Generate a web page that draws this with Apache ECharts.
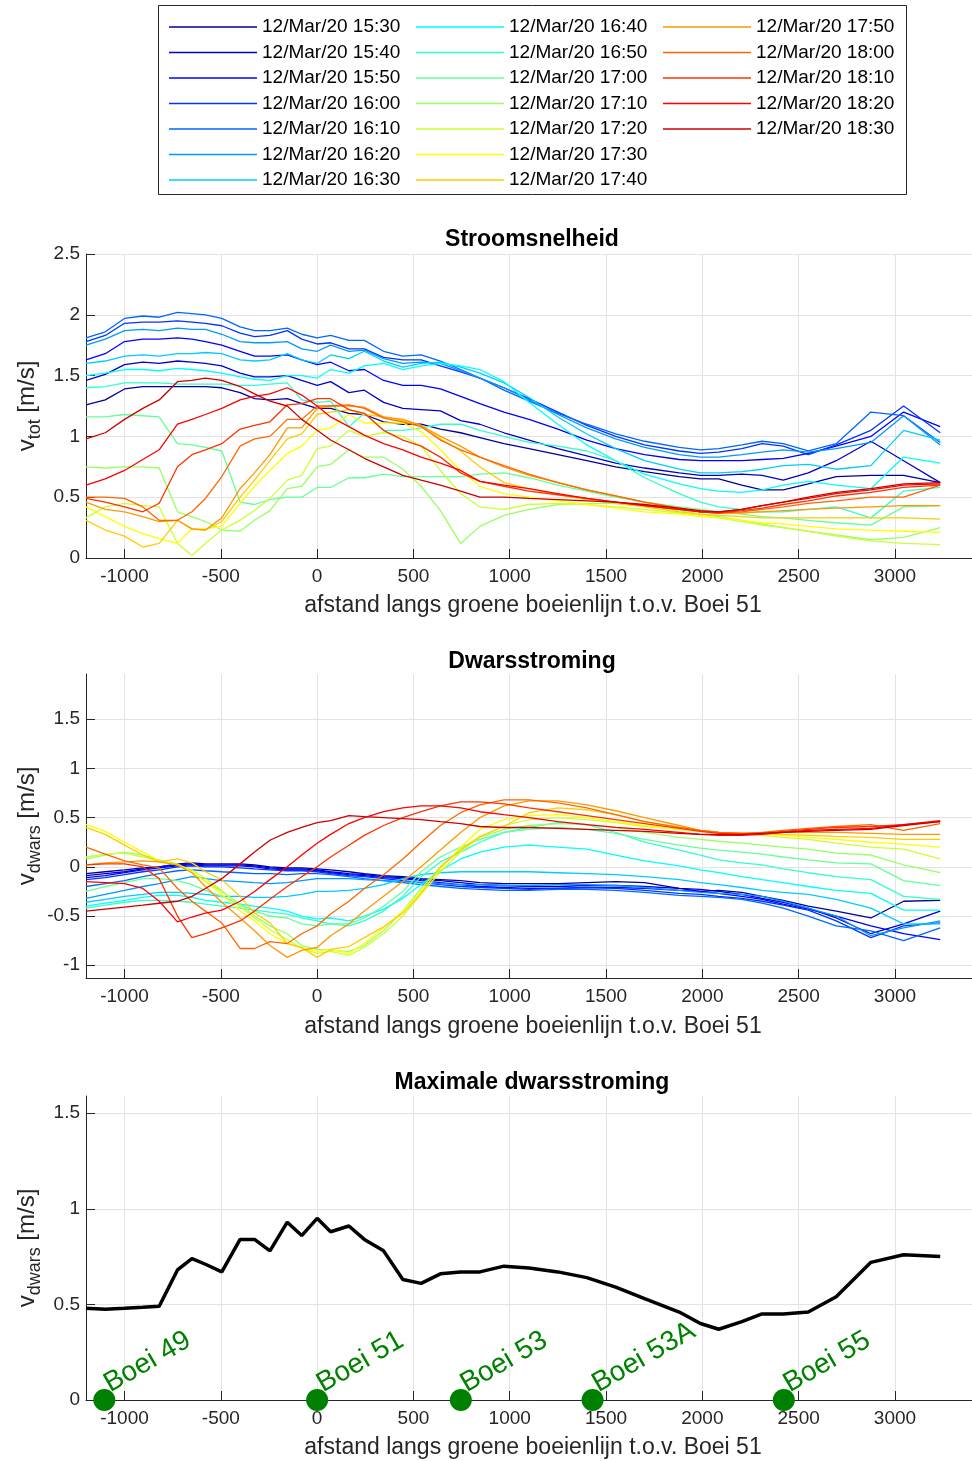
<!DOCTYPE html>
<html><head><meta charset="utf-8">
<script src="https://cdn.jsdelivr.net/npm/echarts@6/dist/echarts.min.js"></script>
<style>html,body{margin:0;padding:0;background:#fff}#c{width:972px;height:1461px}</style>
</head><body><div id="c"></div>
<script>
// ---------- data ----------
const X = [-1200,-1100,-1000,-905,-820,-725,-650,-580,-495,-400,-325,-245,-155,-80,0,70,165,245,345,445,540,640,745,845,970,1100,1250,1400,1550,1700,1880,1990,2085,2205,2310,2420,2550,2695,2875,3045,3235];
const times = ['15:30','15:40','15:50','16:00','16:10','16:20','16:30','16:40','16:50','17:00','17:10','17:20','17:30','17:40','17:50','18:00','18:10','18:20','18:30'];
const colors = ['#000099','#0000cc','#0000ff','#0033ff','#0066ff','#0099ff','#00ccff','#00ffff','#33ffcc','#66ff99','#99ff66','#ccff33','#ffff00','#ffcc00','#ff9900','#ff6600','#ff3300','#ff0000','#cc0000'];
const xTicks = [-1000,-500,0,500,1000,1500,2000,2500,3000];

// Stroomsnelheid v_tot [m/s]
const v1530 = [1.26,1.30,1.39,1.41,1.41,1.41,1.41,1.41,1.40,1.36,1.31,1.30,1.31,1.27,1.23,1.23,1.19,1.18,1.12,1.10,1.10,1.06,1.03,0.99,0.94,0.90,0.85,0.80,0.75,0.71,0.67,0.65,0.65,0.60,0.56,0.56,0.61,0.67,0.68,0.68,0.62];
const v1540 = [1.46,1.51,1.59,1.61,1.60,1.62,1.61,1.60,1.58,1.52,1.49,1.49,1.50,1.46,1.42,1.45,1.36,1.38,1.28,1.23,1.22,1.21,1.13,1.10,1.03,0.97,0.90,0.84,0.78,0.74,0.70,0.68,0.68,0.69,0.68,0.64,0.70,0.80,0.96,0.80,0.62];
const v1550 = [1.63,1.68,1.78,1.80,1.80,1.81,1.80,1.78,1.75,1.70,1.66,1.66,1.67,1.63,1.59,1.61,1.54,1.55,1.46,1.42,1.42,1.39,1.33,1.27,1.20,1.14,1.06,0.97,0.90,0.85,0.81,0.80,0.80,0.80,0.81,0.82,0.86,0.92,1.00,1.20,1.08];
const v1600 = [1.78,1.83,1.93,1.94,1.94,1.95,1.94,1.93,1.91,1.85,1.82,1.83,1.87,1.80,1.76,1.77,1.72,1.72,1.65,1.63,1.63,1.58,1.53,1.48,1.40,1.31,1.20,1.09,1.00,0.93,0.88,0.86,0.87,0.90,0.94,0.92,0.85,0.93,1.05,1.25,1.03];
const v1610 = [1.81,1.86,1.97,1.99,1.98,2.02,2.01,2.00,1.97,1.90,1.87,1.87,1.89,1.84,1.81,1.83,1.79,1.79,1.70,1.66,1.67,1.62,1.55,1.48,1.38,1.29,1.19,1.10,1.02,0.96,0.91,0.89,0.90,0.93,0.96,0.94,0.88,0.94,1.20,1.17,0.95];
const v1620 = [1.75,1.80,1.87,1.88,1.87,1.89,1.88,1.88,1.84,1.78,1.77,1.77,1.78,1.72,1.70,1.75,1.70,1.71,1.64,1.60,1.61,1.60,1.54,1.48,1.40,1.30,1.18,1.07,0.98,0.91,0.85,0.83,0.83,0.85,0.87,0.89,0.87,0.90,0.95,1.17,0.93];
const v1630 = [1.60,1.62,1.66,1.67,1.66,1.68,1.68,1.69,1.68,1.63,1.62,1.63,1.68,1.63,1.60,1.67,1.64,1.70,1.62,1.57,1.60,1.61,1.57,1.52,1.44,1.32,1.16,1.02,0.90,0.80,0.73,0.70,0.70,0.71,0.73,0.76,0.77,0.73,0.76,1.05,0.97];
const v1640 = [1.50,1.52,1.55,1.55,1.54,1.56,1.55,1.54,1.52,1.49,1.47,1.46,1.50,1.50,1.48,1.55,1.52,1.58,1.60,1.55,1.58,1.60,1.58,1.55,1.45,1.28,1.10,0.93,0.80,0.69,0.61,0.57,0.55,0.54,0.56,0.60,0.63,0.60,0.57,0.83,0.78];
const v1650 = [1.40,1.41,1.44,1.44,1.44,1.43,1.43,1.43,1.43,1.42,1.42,1.43,1.44,1.30,1.28,1.29,1.08,1.19,1.05,1.05,1.07,1.10,1.10,1.05,1.00,0.95,0.92,0.88,0.80,0.66,0.53,0.46,0.42,0.40,0.38,0.38,0.40,0.42,0.33,0.55,0.58];
const v1700 = [1.16,1.16,1.18,1.17,1.16,0.94,0.93,0.91,0.88,0.46,0.44,0.48,0.50,0.50,0.58,0.58,0.66,0.66,0.69,0.67,0.67,0.67,0.67,0.69,0.70,0.66,0.60,0.55,0.50,0.46,0.42,0.40,0.38,0.36,0.34,0.33,0.31,0.29,0.27,0.42,0.43];
const v1710 = [0.75,0.74,0.75,0.75,0.74,0.38,0.34,0.30,0.23,0.22,0.31,0.39,0.57,0.59,0.75,0.77,0.89,0.83,0.83,0.73,0.59,0.39,0.12,0.26,0.35,0.40,0.44,0.45,0.45,0.43,0.39,0.36,0.34,0.31,0.28,0.25,0.22,0.19,0.15,0.17,0.25];
const v1720 = [0.33,0.42,0.45,0.43,0.42,0.12,0.02,0.12,0.23,0.31,0.39,0.49,0.64,0.68,0.90,0.92,1.05,1.00,1.03,1.00,0.92,0.72,0.53,0.42,0.40,0.44,0.45,0.44,0.42,0.40,0.37,0.35,0.33,0.30,0.27,0.25,0.22,0.18,0.14,0.12,0.11];
const v1730 = [0.42,0.34,0.26,0.20,0.16,0.12,0.24,0.24,0.26,0.45,0.59,0.72,0.86,0.92,1.05,1.07,1.18,1.11,1.11,1.11,1.04,0.89,0.72,0.59,0.53,0.50,0.47,0.44,0.41,0.38,0.36,0.34,0.33,0.31,0.29,0.28,0.26,0.24,0.23,0.22,0.21];
const v1740 = [0.31,0.23,0.18,0.09,0.12,0.31,0.24,0.23,0.30,0.50,0.64,0.80,0.98,1.02,1.18,1.20,1.22,1.18,1.16,1.13,1.09,0.98,0.88,0.75,0.62,0.57,0.52,0.48,0.45,0.42,0.38,0.36,0.35,0.34,0.33,0.33,0.33,0.33,0.33,0.33,0.32];
const v1750 = [0.46,0.40,0.38,0.34,0.30,0.31,0.24,0.23,0.33,0.57,0.70,0.85,1.07,1.07,1.23,1.25,1.25,1.24,1.16,1.14,1.09,1.00,0.92,0.83,0.75,0.68,0.62,0.56,0.51,0.46,0.41,0.38,0.37,0.37,0.38,0.39,0.40,0.41,0.42,0.43,0.43];
const v1800 = [0.50,0.50,0.49,0.42,0.31,0.31,0.38,0.49,0.67,0.92,0.98,1.00,1.14,1.14,1.25,1.25,1.26,1.23,1.15,1.12,1.08,0.97,0.89,0.83,0.76,0.69,0.62,0.56,0.51,0.46,0.41,0.38,0.37,0.38,0.40,0.42,0.45,0.47,0.50,0.50,0.60];
const v1810 = [0.49,0.46,0.42,0.38,0.45,0.75,0.85,0.89,0.94,1.06,1.09,1.12,1.26,1.27,1.31,1.31,1.22,1.19,1.05,0.97,0.92,0.83,0.70,0.63,0.59,0.55,0.52,0.49,0.46,0.43,0.40,0.38,0.37,0.39,0.41,0.44,0.47,0.51,0.54,0.58,0.60];
const v1820 = [0.60,0.65,0.72,0.81,0.89,1.10,1.14,1.18,1.23,1.30,1.33,1.35,1.40,1.34,1.25,1.16,1.08,1.01,0.94,0.89,0.83,0.78,0.72,0.63,0.60,0.57,0.53,0.49,0.46,0.43,0.40,0.38,0.38,0.40,0.43,0.46,0.49,0.53,0.56,0.60,0.61];
const v1830 = [0.98,1.03,1.14,1.23,1.30,1.45,1.46,1.48,1.46,1.41,1.35,1.29,1.25,1.14,1.05,0.97,0.89,0.82,0.75,0.68,0.64,0.60,0.55,0.50,0.50,0.49,0.48,0.47,0.46,0.44,0.41,0.39,0.38,0.40,0.43,0.46,0.50,0.54,0.57,0.61,0.62];

// Dwarsstroming v_dwars [m/s]
const d1530 = [-0.07,-0.05,-0.03,-0.01,0.00,0.03,0.04,0.03,0.03,0.03,0.02,0.00,-0.01,-0.01,-0.02,-0.03,-0.05,-0.07,-0.09,-0.10,-0.12,-0.13,-0.14,-0.16,-0.17,-0.17,-0.17,-0.16,-0.15,-0.16,-0.22,-0.25,-0.24,-0.26,-0.30,-0.34,-0.40,-0.45,-0.52,-0.35,-0.34];
const d1540 = [-0.09,-0.07,-0.05,-0.02,0.00,0.02,0.03,0.02,0.02,0.02,0.01,-0.01,-0.02,-0.02,-0.03,-0.05,-0.07,-0.08,-0.10,-0.11,-0.13,-0.14,-0.16,-0.18,-0.19,-0.20,-0.20,-0.19,-0.19,-0.20,-0.22,-0.23,-0.25,-0.28,-0.32,-0.36,-0.42,-0.52,-0.68,-0.58,-0.45];
const d1550 = [-0.11,-0.09,-0.06,-0.03,-0.01,0.01,0.02,0.01,0.01,0.01,0.00,-0.02,-0.03,-0.03,-0.04,-0.06,-0.08,-0.09,-0.11,-0.12,-0.14,-0.16,-0.18,-0.20,-0.21,-0.22,-0.22,-0.21,-0.21,-0.22,-0.24,-0.25,-0.27,-0.30,-0.33,-0.38,-0.43,-0.50,-0.60,-0.68,-0.74];
const d1600 = [-0.13,-0.11,-0.08,-0.05,-0.03,0.00,0.01,0.00,0.00,-0.01,-0.02,-0.03,-0.04,-0.04,-0.05,-0.07,-0.09,-0.10,-0.12,-0.14,-0.16,-0.18,-0.20,-0.21,-0.22,-0.23,-0.22,-0.21,-0.22,-0.24,-0.27,-0.28,-0.30,-0.32,-0.35,-0.39,-0.44,-0.55,-0.72,-0.60,-0.57];
const d1610 = [-0.20,-0.17,-0.14,-0.10,-0.07,-0.04,-0.03,-0.04,-0.05,-0.06,-0.07,-0.07,-0.08,-0.07,-0.07,-0.08,-0.10,-0.12,-0.14,-0.16,-0.18,-0.20,-0.22,-0.23,-0.24,-0.24,-0.23,-0.23,-0.24,-0.26,-0.29,-0.30,-0.31,-0.33,-0.37,-0.42,-0.50,-0.60,-0.65,-0.75,-0.62];
const d1620 = [-0.32,-0.28,-0.24,-0.20,-0.17,-0.13,-0.10,-0.12,-0.14,-0.15,-0.16,-0.17,-0.16,-0.14,-0.12,-0.12,-0.12,-0.13,-0.14,-0.15,-0.16,-0.17,-0.18,-0.18,-0.19,-0.19,-0.18,-0.18,-0.19,-0.21,-0.24,-0.26,-0.27,-0.28,-0.30,-0.35,-0.42,-0.50,-0.70,-0.62,-0.55];
const d1630 = [-0.36,-0.33,-0.30,-0.28,-0.26,-0.26,-0.27,-0.28,-0.30,-0.30,-0.31,-0.31,-0.30,-0.28,-0.25,-0.25,-0.24,-0.22,-0.18,-0.12,-0.08,-0.06,-0.05,-0.05,-0.05,-0.05,-0.06,-0.07,-0.08,-0.10,-0.13,-0.16,-0.18,-0.21,-0.24,-0.26,-0.28,-0.33,-0.42,-0.58,-0.58];
const d1640 = [-0.40,-0.37,-0.34,-0.31,-0.29,-0.29,-0.31,-0.34,-0.36,-0.38,-0.40,-0.42,-0.45,-0.50,-0.53,-0.52,-0.55,-0.50,-0.43,-0.32,-0.18,-0.04,0.08,0.15,0.20,0.22,0.20,0.18,0.12,0.06,0.01,-0.03,-0.06,-0.10,-0.13,-0.16,-0.20,-0.24,-0.27,-0.44,-0.44];
const d1650 = [-0.42,-0.39,-0.36,-0.34,-0.34,-0.35,-0.36,-0.38,-0.40,-0.42,-0.44,-0.46,-0.48,-0.52,-0.55,-0.58,-0.60,-0.55,-0.45,-0.30,-0.10,0.05,0.15,0.25,0.35,0.40,0.45,0.43,0.35,0.25,0.17,0.12,0.07,0.04,0.02,-0.02,-0.06,-0.10,-0.13,-0.30,-0.33];
const d1700 = [-0.25,-0.20,-0.16,-0.12,-0.12,-0.14,-0.18,-0.24,-0.30,-0.38,-0.45,-0.50,-0.52,-0.58,-0.60,-0.58,-0.58,-0.52,-0.40,-0.25,-0.05,0.10,0.20,0.28,0.35,0.38,0.40,0.38,0.34,0.28,0.22,0.19,0.17,0.15,0.13,0.10,0.07,0.04,0.03,-0.14,-0.19];
const d1710 = [0.08,0.12,0.15,0.12,0.07,0.03,-0.05,-0.15,-0.25,-0.38,-0.50,-0.60,-0.68,-0.80,-0.84,-0.85,-0.86,-0.80,-0.65,-0.45,-0.22,0.00,0.18,0.30,0.38,0.42,0.44,0.43,0.40,0.35,0.30,0.28,0.26,0.24,0.22,0.20,0.18,0.14,0.12,0.02,-0.06];
const d1720 = [0.10,0.13,0.14,0.10,0.06,0.02,-0.03,-0.12,-0.24,-0.40,-0.52,-0.64,-0.74,-0.83,-0.88,-0.86,-0.90,-0.82,-0.68,-0.50,-0.28,-0.05,0.15,0.30,0.42,0.48,0.50,0.48,0.45,0.41,0.38,0.36,0.35,0.34,0.32,0.30,0.28,0.24,0.20,0.18,0.08];
const d1730 = [0.43,0.36,0.25,0.15,0.06,0.02,-0.05,-0.15,-0.28,-0.45,-0.55,-0.68,-0.78,-0.82,-0.86,-0.84,-0.88,-0.78,-0.62,-0.45,-0.25,-0.02,0.20,0.38,0.48,0.52,0.53,0.50,0.46,0.42,0.38,0.36,0.35,0.34,0.33,0.32,0.30,0.28,0.25,0.23,0.20];
const d1740 = [0.40,0.33,0.22,0.12,0.05,0.08,0.04,-0.05,-0.13,-0.30,-0.47,-0.57,-0.78,-0.82,-0.92,-0.84,-0.81,-0.72,-0.61,-0.47,-0.27,0.00,0.17,0.31,0.41,0.55,0.60,0.58,0.53,0.46,0.40,0.37,0.35,0.34,0.34,0.33,0.32,0.31,0.30,0.28,0.28];
const d1750 = [0.02,0.04,0.05,0.06,0.05,0.02,-0.06,-0.20,-0.36,-0.52,-0.65,-0.80,-0.92,-0.85,-0.82,-0.70,-0.58,-0.45,-0.30,-0.15,0.00,0.17,0.35,0.50,0.62,0.67,0.67,0.63,0.57,0.50,0.42,0.37,0.35,0.34,0.34,0.35,0.35,0.35,0.34,0.33,0.33];
const d1800 = [0.20,0.13,0.06,0.02,-0.01,-0.22,-0.35,-0.45,-0.57,-0.83,-0.83,-0.76,-0.78,-0.68,-0.60,-0.48,-0.35,-0.22,-0.08,0.08,0.25,0.42,0.55,0.63,0.68,0.68,0.65,0.60,0.53,0.46,0.40,0.37,0.35,0.34,0.35,0.37,0.39,0.41,0.43,0.37,0.44];
const d1810 = [0.02,0.03,0.03,0.00,-0.12,-0.50,-0.72,-0.68,-0.62,-0.55,-0.45,-0.33,-0.20,-0.10,0.00,0.10,0.22,0.32,0.42,0.50,0.56,0.62,0.66,0.66,0.64,0.60,0.56,0.52,0.48,0.44,0.39,0.36,0.34,0.33,0.34,0.36,0.38,0.40,0.41,0.43,0.46];
const d1820 = [-0.15,-0.16,-0.17,-0.22,-0.35,-0.56,-0.51,-0.47,-0.44,-0.35,-0.25,-0.13,0.00,0.12,0.24,0.33,0.44,0.50,0.56,0.60,0.62,0.62,0.60,0.56,0.53,0.50,0.46,0.43,0.40,0.38,0.35,0.33,0.32,0.32,0.33,0.35,0.37,0.38,0.39,0.43,0.47];
const d1830 = [-0.45,-0.43,-0.41,-0.39,-0.37,-0.35,-0.30,-0.22,-0.12,0.03,0.15,0.27,0.35,0.40,0.45,0.47,0.52,0.51,0.50,0.49,0.48,0.46,0.44,0.41,0.40,0.40,0.39,0.38,0.37,0.36,0.34,0.33,0.33,0.33,0.34,0.35,0.36,0.37,0.38,0.42,0.46];

// Maximale dwarsstroming
const maxDwars = [0.48,0.475,0.48,0.485,0.49,0.68,0.74,0.71,0.67,0.84,0.84,0.78,0.93,0.86,0.95,0.88,0.91,0.84,0.78,0.63,0.61,0.66,0.67,0.67,0.70,0.69,0.67,0.64,0.59,0.53,0.46,0.40,0.37,0.41,0.45,0.45,0.46,0.54,0.72,0.76,0.75];
const buoyNames = ['Boei 49','Boei 51','Boei 53','Boei 53A','Boei 55'];
const buoyX = [-1105,0,746,1430,2423];

const vtot = [v1530,v1540,v1550,v1600,v1610,v1620,v1630,v1640,v1650,v1700,v1710,v1720,v1730,v1740,v1750,v1800,v1810,v1820,v1830];
const vdwars = [d1530,d1540,d1550,d1600,d1610,d1620,d1630,d1640,d1650,d1700,d1710,d1720,d1730,d1740,d1750,d1800,d1810,d1820,d1830];

// ---------- chart ----------
const FONT = "'Liberation Sans', Arial, Helvetica, sans-serif";
const AX = '#262626';
const GRIDC = '#e3e3e3';
const names = times.map(t => '12/Mar/20 ' + t);
const chart = echarts.init(document.getElementById('c'), null, {renderer:'canvas'});
const plainNum = v => String(v);

function xAx(gi){
  return {type:'value', gridIndex:gi, min:-1200, max:3400, splitNumber:9,
    axisLine:{show:true,onZero:false,lineStyle:{color:AX,width:1}},
    axisTick:{show:true,inside:true,length:9,customValues:xTicks,lineStyle:{color:AX}},
    axisLabel:{customValues:xTicks,formatter:plainNum,fontSize:19,color:AX,fontFamily:FONT,margin:9},
    splitLine:{show:true,lineStyle:{color:GRIDC,width:1}}};
}
function yAx(gi,min,max,ticks,splitNumber){
  return {type:'value', gridIndex:gi, min:min, max:max, splitNumber:splitNumber,
    axisLine:{show:true,onZero:false,lineStyle:{color:AX,width:1}},
    axisTick:{show:true,inside:true,length:9,customValues:ticks,lineStyle:{color:AX}},
    axisLabel:{customValues:ticks,formatter:plainNum,fontSize:19,color:AX,fontFamily:FONT,margin:6},
    splitLine:{show:true,lineStyle:{color:GRIDC,width:1}}};
}

const series = [];
vtot.forEach((arr,i)=>{
  series.push({type:'line', name:names[i], xAxisIndex:0, yAxisIndex:0, symbol:'none', showSymbol:false,
    data:X.map((x,k)=>[x,arr[k]]), lineStyle:{color:colors[i],width:1.3}, itemStyle:{color:colors[i]}, animation:false});
});
vdwars.forEach((arr,i)=>{
  series.push({type:'line', name:names[i], xAxisIndex:1, yAxisIndex:1, symbol:'none', showSymbol:false,
    data:X.map((x,k)=>[x,arr[k]]), lineStyle:{color:colors[i],width:1.3}, itemStyle:{color:colors[i]}, animation:false});
});
series.push({type:'line', name:'max', xAxisIndex:2, yAxisIndex:2, symbol:'none', showSymbol:false,
  data:X.map((x,k)=>[x,maxDwars[k]]), lineStyle:{color:'#000',width:3.5}, itemStyle:{color:'#000'}, animation:false});
series.push({type:'scatter', name:'boeien', xAxisIndex:2, yAxisIndex:2, symbol:'circle', symbolSize:22, clip:false,
  data:buoyX.map((x,k)=>({name:buoyNames[k], value:[x,0]})), itemStyle:{color:'#008000', opacity:1},
  label:{show:true, formatter:'{b}', position:[20,9], align:'left', verticalAlign:'bottom', rotate:30,
    color:'#008000', fontSize:28, fontFamily:FONT}, z:5, animation:false});

// legends: three columns
function leg(left, list){
  return {show:true, left:left, top:17, orient:'vertical', padding:0, itemGap:5.5, itemWidth:88, itemHeight:1.6,
    icon:'rect', data:list, selectedMode:false, textStyle:{fontSize:19, color:'#000', fontFamily:FONT, lineHeight:20}};
}

// rotated y-axis titles with subscript
const meas = document.createElement('canvas').getContext('2d');
function tw(t, fs){ meas.font = fs + 'px ' + FONT; return meas.measureText(t).width; }
function ylabel(cx, cy, sub){
  const FS = 24, SFS = 18;
  const w1 = tw('v',FS), w2 = tw(sub,SFS), w3 = tw(' [m/s]',FS);
  const W = w1 + w2 + w3;
  let x0 = -W/2;
  const base = {fill:AX, fontFamily:FONT, textAlign:'left', align:'left', textVerticalAlign:'middle', verticalAlign:'middle'};
  return {type:'group', x:cx, y:cy, rotation:Math.PI/2, children:[
    {type:'text', x:x0, y:0, style:Object.assign({text:'v', fontSize:FS}, base)},
    {type:'text', x:x0+w1, y:8, style:Object.assign({text:sub, fontSize:SFS}, base)},
    {type:'text', x:x0+w1+w2, y:0, style:Object.assign({text:' [m/s]', fontSize:FS}, base)}
  ]};
}
function ctext(x, y, text, fs, bold){
  return {type:'text', x:x, y:y, style:{text:text, fill: bold ? '#000' : AX, fontSize:fs, fontWeight: bold ? 'bold' : 'normal',
    fontFamily:FONT, textAlign:'center', align:'center', textVerticalAlign:'middle', verticalAlign:'middle'}};
}
const XTITLE = 'afstand langs groene boeienlijn t.o.v. Boei 51';

const option = {
  animation:false,
  backgroundColor:'#fff',
  grid:[
    {left:86, top:254, width:893, height:304},
    {left:86, top:674, width:893, height:304},
    {left:86, top:1096, width:893, height:304}
  ],
  xAxis:[xAx(0), xAx(1), xAx(2)],
  yAxis:[
    yAx(0, 0, 2.5, [0,0.5,1,1.5,2,2.5], 5),
    yAx(1, -1.13, 1.96, [-1,-0.5,0,0.5,1,1.5], 6),
    yAx(2, 0, 1.59, [0,0.5,1,1.5], 3)
  ],
  legend:[leg(169, names.slice(0,7)), leg(416, names.slice(7,14)), leg(663, names.slice(14))],
  graphic:[
    {type:'rect', shape:{x:158.5, y:5.5, width:748, height:189}, style:{fill:'none', stroke:AX, lineWidth:1}},
    ctext(532, 240, 'Stroomsnelheid', 23, true),
    ctext(532, 662, 'Dwarsstroming', 23, true),
    ctext(532, 1083, 'Maximale dwarsstroming', 23, true),
    ctext(533, 606, XTITLE, 23, false),
    ctext(533, 1027, XTITLE, 23, false),
    ctext(533, 1448, XTITLE, 23, false),
    ylabel(27, 406, 'tot'),
    ylabel(27, 826, 'dwars'),
    ylabel(27, 1248, 'dwars')
  ],
  series:series
};
chart.setOption(option);
</script>
</body></html>
